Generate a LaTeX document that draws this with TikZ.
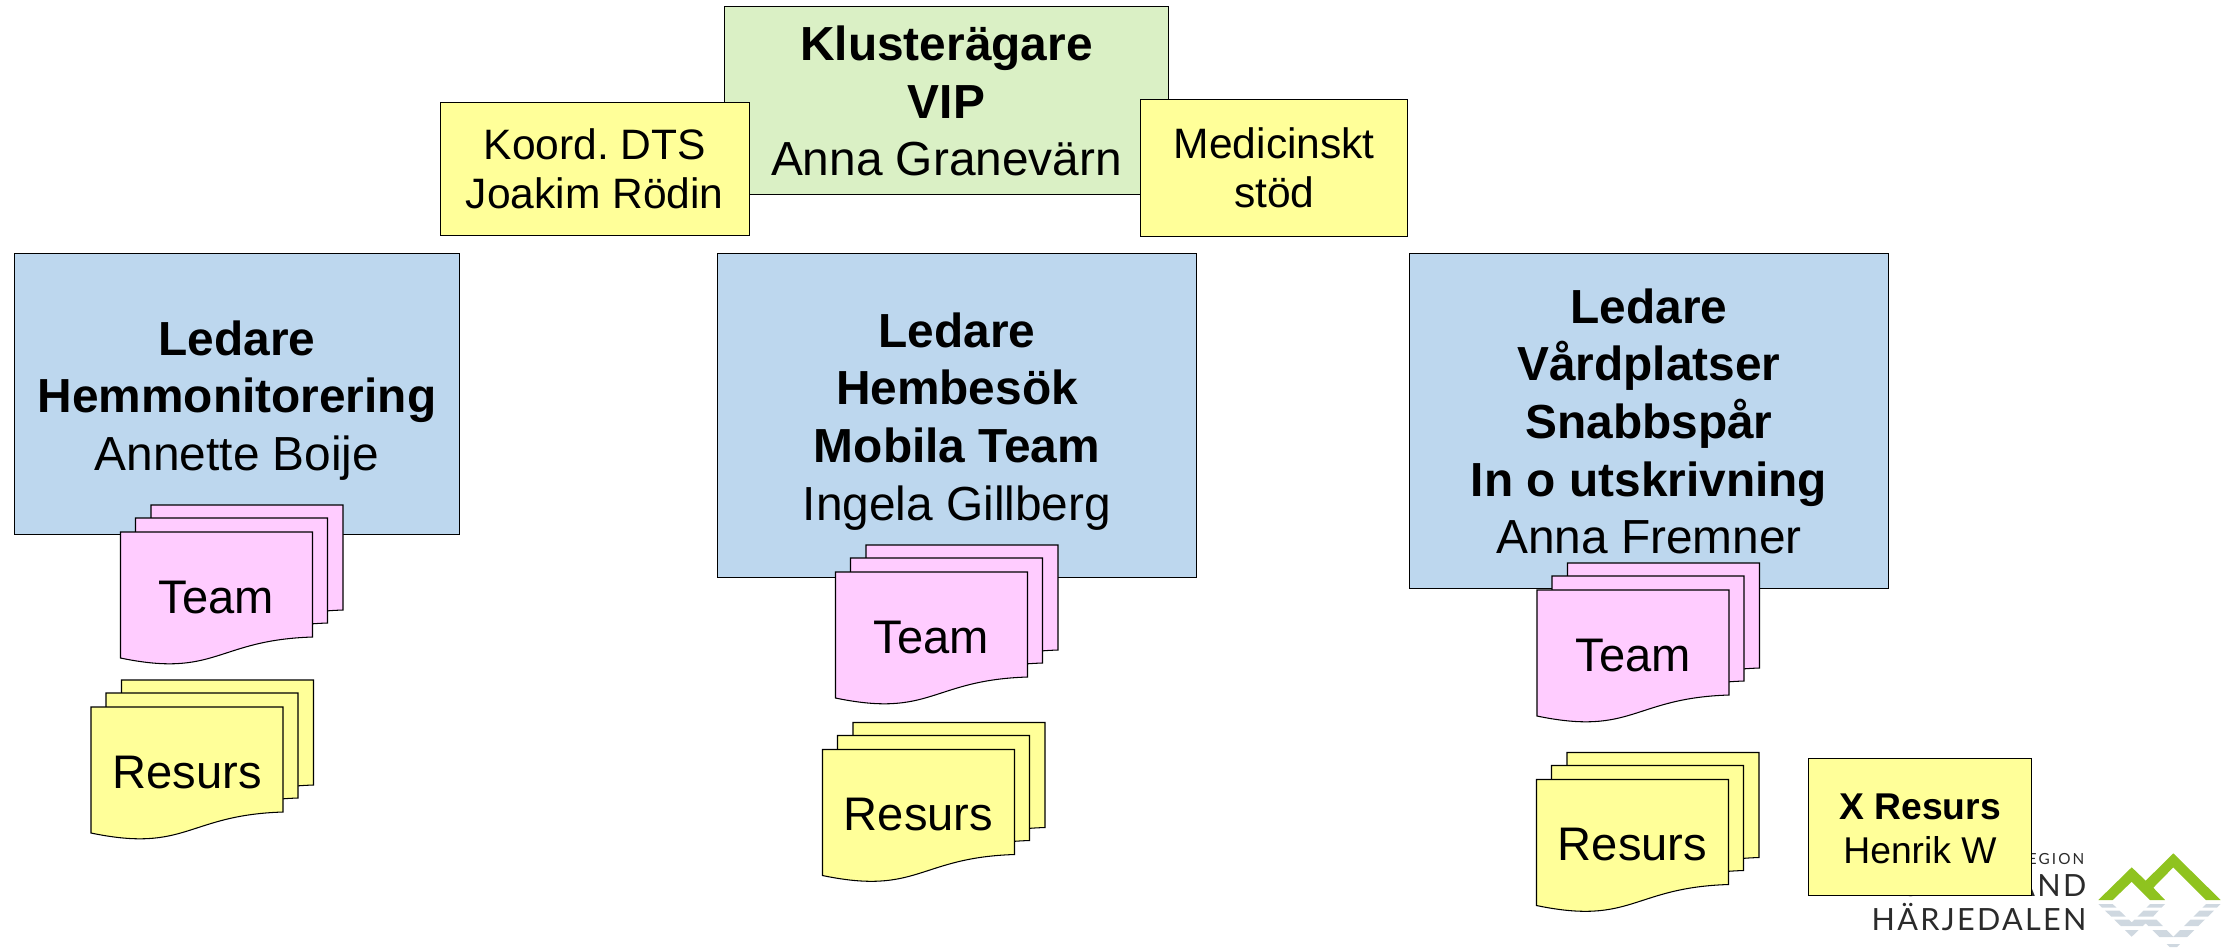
\documentclass[tikz,border=0pt]{standalone}
\usepackage{fontspec}
\setmainfont{Liberation Sans}
\newfontfamily\logofont[LetterSpace=7.5]{Lato}
\newfontfamily\logowide[LetterSpace=14]{Lato}
\definecolor{ownergreen}{HTML}{DAF0C5}
\definecolor{leadblue}{HTML}{BDD7EE}
\definecolor{noteyellow}{HTML}{FFFF99}
\definecolor{teampink}{HTML}{FFCCFF}
\definecolor{logogreen}{HTML}{8FC31F}
\definecolor{logogrey}{HTML}{CFD8E0}
\definecolor{logotext}{HTML}{2B2B2B}
\newcommand{\dropto}[1]{\rule{0pt}{#1pt}}
\newcommand{\logomark}{(2098.3,0) -- (2131.7,-32.7) -- (2145.7,-19.3) -- (2173.3,-46.7) -- (2220.7,0)
  -- (2206,0) -- (2173.3,-32.7) -- (2153.3,-12.3) -- (2165,0) -- (2150,0) -- (2131.7,-18.3) -- (2112.7,0) -- cycle}
\tikzset{
  box/.style={draw=black,line width=.3pt,rectangle,inner sep=0pt,align=center},
  bigtext/.style={font=\frenchspacing\fontsize{13.6}{16.4}\selectfont},
  smalltext/.style={font=\frenchspacing\fontsize{12.1}{13.9}\selectfont},
  sheet/.style={draw=black,line width=.3pt},
  sheetlabel/.style={inner sep=0pt,font=\fontsize{13.4}{16}\selectfont},
  logolabel/.style={inner sep=0pt,anchor=base east,text=logotext}
}
\begin{document}
\begin{tikzpicture}
  [x=.01cm,y=-.01cm]
  \useasboundingbox (0,0) rectangle (2238,947);
  % logo lies under the last box
  \node[logolabel,font=\logowide\fontsize{4.35}{5}\selectfont] (nregion) at (2085,864) {REGION};
  \node[logolabel,font=\logofont\fontsize{8.7}{10}\selectfont] (njamt) at (2087,896) {JÄMTLAND};
  \node[logolabel,font=\logofont\fontsize{8.7}{10}\selectfont] (nharj) at (2087,930) {HÄRJEDALEN};
  \fill[logogreen,shift={(0,900)}] \logomark;
  \begin{scope}
    \clip (2090,903) rectangle (2230,907.5) (2090,910.5) rectangle (2230,916.5) (2090,919.5) rectangle (2230,926)
      (2090,930) rectangle (2230,937) (2090,944) rectangle (2230,947);
    \fill[logogrey,shift={(0,904)},yscale=-1] \logomark;
  \end{scope}

  \node[box,fill=ownergreen,bigtext,minimum width=4.435cm,minimum height=1.87cm] (nowner) at (946.5,100.5)
    {\dropto{10.2}\textbf{Klusterägare}\\\textbf{VIP}\\Anna Granevärn};
  \node[box,fill=noteyellow,smalltext,minimum width=3.086cm,minimum height=1.337cm] (nkoord) at (594.8,168.9)
    {Koord. DTS\\Joakim Rödin};
  \node[box,fill=noteyellow,smalltext,minimum width=2.666cm,minimum height=1.365cm] (nmed) at (1274.3,168.2)
    {Medicinskt\\stöd};
  \node[box,fill=leadblue,bigtext,minimum width=4.45cm,minimum height=2.8cm] (nhem) at (237,394)
    {\dropto{13.6}\textbf{Ledare}\\\textbf{Hemmonitorering}\\Annette Boije};
  \node[box,fill=leadblue,bigtext,minimum width=4.79cm,minimum height=3.23cm] (nmob) at (957,415.5)
    {\dropto{13.1}\textbf{Ledare}\\\textbf{Hembesök}\\\textbf{Mobila Team}\\Ingela Gillberg};
  \node[box,fill=leadblue,bigtext,minimum width=4.79cm,minimum height=3.34cm] (nvard) at (1649,421)
    {\dropto{10}\textbf{Ledare}\\\textbf{Vårdplatser}\\\textbf{Snabbspår}\\\textbf{In o utskrivning}\\Anna Fremner};

  \foreach \nm/\sx/\sy/\col/\txt in {ntone/120.5/532/teampink/Team,ntwo/835.5/572/teampink/Team,
      ntthree/1537/590/teampink/Team,nrone/91/707/noteyellow/Resurs,nrtwo/822.5/749.5/noteyellow/Resurs,
      nrthree/1536.5/779.5/noteyellow/Resurs} {
    \foreach \dx/\dy in {30.5/-27,15/-14,0/0}
      \draw[sheet,fill=\col,shift={(\sx+\dx,\sy+\dy)}] (0,0) -- (192,0) -- (192,105)
        .. controls (96,108) and (96,146) .. (0,126) -- cycle;
    \node[sheetlabel] (\nm) at (\sx+96,\sy+65) {\txt};
  }

  \node[box,fill=noteyellow,font=\fontsize{10.6}{12.6}\selectfont,minimum width=2.223cm,minimum height=1.367cm] (nxres) at (1920,827)
    {\dropto{8.3}\textbf{X Resurs}\\Henrik W};
\end{tikzpicture}
\end{document}
